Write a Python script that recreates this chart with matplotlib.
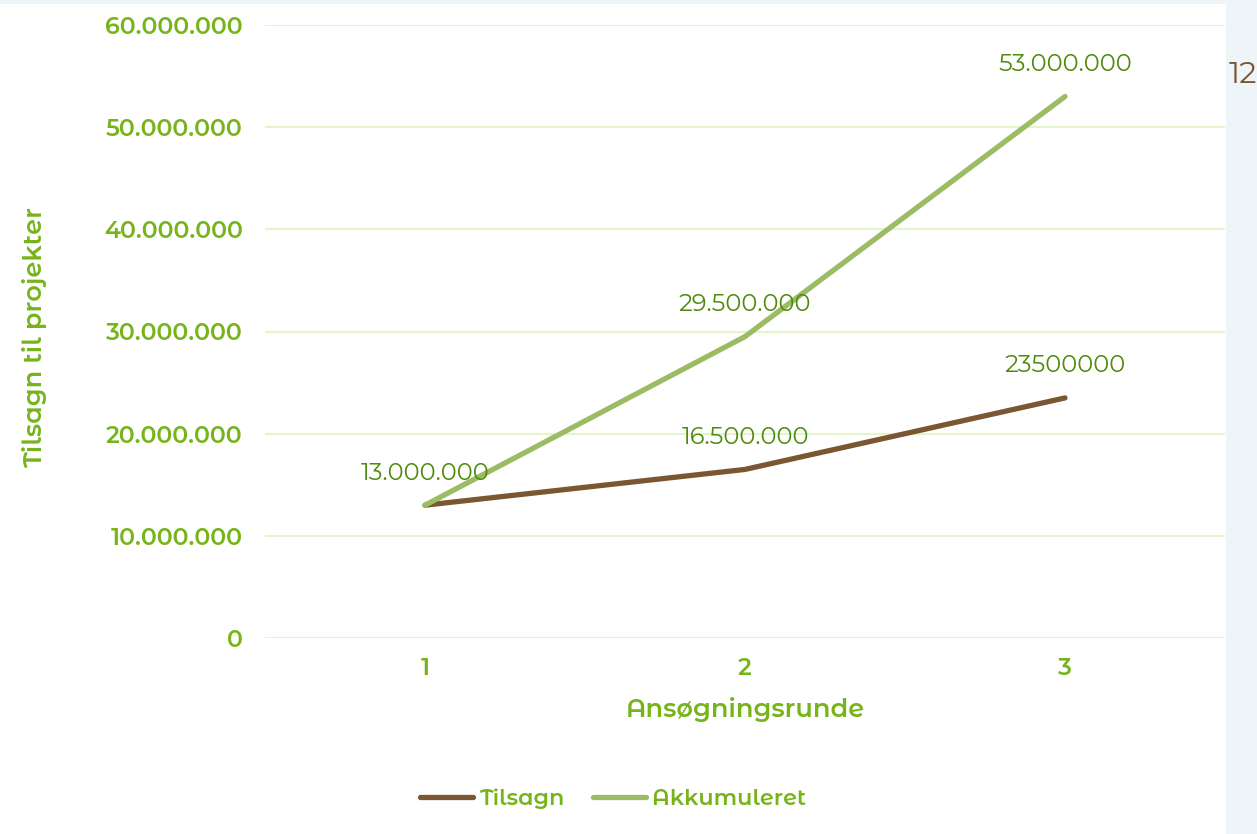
import matplotlib.pyplot as plt
from matplotlib.ticker import FuncFormatter

runder = [1, 2, 3]
tilsagn = [13000000, 16500000, 23500000]
akkumuleret = [13000000, 29500000, 53000000]
tilsagn_labels = ['13.000.000', '16.500.000', '23500000']
akk_labels = ['13.000.000', '29.500.000', '53.000.000']
yticks = [0, 10000000, 20000000, 30000000, 40000000, 50000000, 60000000]

green = '#76b41a'
dark_green = '#4e8a0c'
brown = '#7b5632'
light = '#9bbb64'

plt.rcParams['font.family'] = ['Montserrat Alternates', 'Open Sans', 'DejaVu Sans']

fig = plt.figure(figsize=(12.57, 8.34), dpi=100, facecolor='#eef5f9')
# hvidt felt bag diagrammet
fig.patches.append(plt.Rectangle((0, 0), 1226 / 1257, 830 / 834, transform=fig.transFigure,
                                 facecolor='white', edgecolor='none', zorder=-5))
ax = fig.add_axes([265 / 1257, 196 / 834, 960 / 1257, 613 / 834])
ax.set_facecolor('none')

ax.plot(runder, tilsagn, color=brown, lw=3.8, solid_capstyle='round', label='Tilsagn', zorder=3)
ax.plot(runder, akkumuleret, color=light, lw=3.8, solid_capstyle='round', label='Akkumuleret', zorder=3)

for x, y, t in zip(runder, tilsagn, tilsagn_labels):
    if x == 1:
        continue
    ax.annotate(t, (x, y), xytext=(0, 23), textcoords='offset points', ha='center', va='center',
                color=dark_green, fontsize=17.5)
for x, y, t in zip(runder, akkumuleret, akk_labels):
    ax.annotate(t, (x, y), xytext=(0, 23), textcoords='offset points', ha='center', va='center',
                color=dark_green, fontsize=17.5)

ax.set_xlim(0.5, 3.5)
ax.set_ylim(0, 60000000)
ax.set_xticks(runder)
ax.set_yticks(yticks)
ax.yaxis.set_major_formatter(FuncFormatter(lambda v, p: '0' if v == 0 else f'{int(v):,}'.replace(',', '.')))
ax.grid(axis='y', color='#e3f5c9', lw=1.5)
ax.set_axisbelow(True)
for s in ax.spines.values():
    s.set_visible(False)
ax.tick_params(length=0, labelsize=17, labelcolor=green)
ax.tick_params(axis='y', pad=16)
ax.tick_params(axis='x', pad=14)
for lab in ax.get_xticklabels() + ax.get_yticklabels():
    lab.set_fontweight('semibold')

ax.set_xlabel('Ansøgningsrunde', color=green, fontsize=18.5, fontweight='semibold', labelpad=12)
fig.text(35 / 1257, 1 - 338 / 834, 'Tilsagn til projekter', rotation=90, color=green,
         fontsize=18.5, fontweight='semibold', ha='center', va='center')

leg = fig.legend(loc='center', bbox_to_anchor=(613 / 1257, 1 - 799 / 834), ncol=2, frameon=False,
                 prop={'size': 16, 'weight': 'semibold'},
                 handlelength=2.4, columnspacing=1.3, handletextpad=0.25)
for t in leg.get_texts():
    t.set_color(green)

fig.text(1243 / 1257, 1 - 75 / 834, '12', color='#7b5632', fontsize=22, ha='center', va='center')

fig.savefig('out.png', dpi=100, facecolor=fig.get_facecolor())
